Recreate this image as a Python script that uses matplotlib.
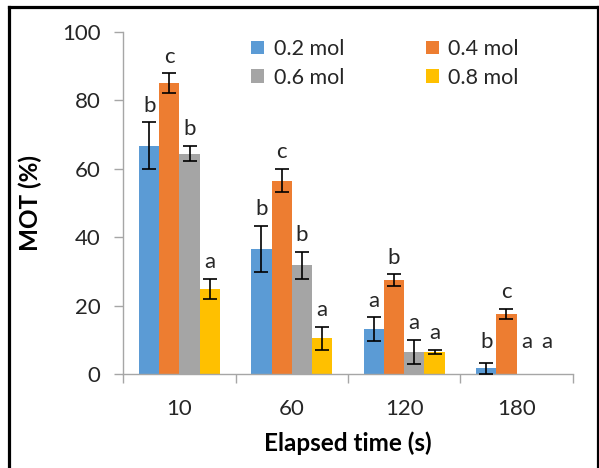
"""MOT (%) vs elapsed time, grouped bars per concentration with letter labels."""

import matplotlib
matplotlib.use("Agg")
import matplotlib.pyplot as plt
from matplotlib.lines import Line2D
from matplotlib.patches import Patch
import numpy as np

plt.rcParams["font.family"] = ["Lato", "DejaVu Sans"]

# ---------------------------------------------------------------------------
# Data
# ---------------------------------------------------------------------------
times = ["10", "60", "120", "180"]
series = ["0.2 mol", "0.4 mol", "0.6 mol", "0.8 mol"]

mot_02 = [66.8, 36.7, 13.1, 1.7]
mot_04 = [85.0, 56.6, 27.5, 17.6]
mot_06 = [64.4, 31.8, 6.5, 0.0]
mot_08 = [25.0, 10.5, 6.5, 0.0]

err_02 = [6.8, 6.7, 3.5, 1.7]
err_04 = [2.9, 3.3, 1.7, 1.4]
err_06 = [2.2, 4.0, 3.5, 0.0]
err_08 = [2.9, 3.3, 0.6, 0.0]

let_02 = ["b", "b", "a", "b"]
let_04 = ["c", "c", "b", "c"]
let_06 = ["b", "b", "a", "a"]
let_08 = ["a", "a", "a", "a"]

colors = ["#5B9BD5", "#ED7D31", "#A5A5A5", "#FFC000"]
grey = "#A6A6A6"
txt = "#262626"

values = [mot_02, mot_04, mot_06, mot_08]
errors = [err_02, err_04, err_06, err_08]
letters = [let_02, let_04, let_06, let_08]

# ---------------------------------------------------------------------------
# Figure
# ---------------------------------------------------------------------------
W, H = 599, 468
fig = plt.figure(figsize=(W / 100, H / 100), dpi=100)
ax = fig.add_axes([123.3 / W, 1 - 374.3 / H, 449.4 / W, 342.3 / H])

x = np.arange(len(times))
bw = 0.18
offsets = (np.arange(4) - 1.5) * bw

for vals, errs, labs, off, c in zip(values, errors, letters, offsets, colors):
    xs = x + off
    vals = np.asarray(vals)
    errs = np.asarray(errs)
    ax.bar(xs, vals, width=bw, color=c, zorder=2)
    has_err = errs > 0
    ax.errorbar(xs[has_err], vals[has_err], yerr=errs[has_err], fmt="none",
                ecolor="black", elinewidth=1.2, capsize=5, capthick=1.2,
                zorder=3)
    for xi, v, e, lab in zip(xs, vals, errs, labs):
        y = max(v + e + 2.0, 6.5)
        ax.text(xi, y, lab, ha="center", va="bottom", fontsize=16, color=txt)

ax.set_xlim(-0.5, len(times) - 0.5)
ax.set_ylim(0, 100)
ax.set_yticks(np.arange(0, 101, 20))
ax.set_xticks(x)
ax.set_xticklabels(times)
ax.set_xticks(np.arange(-0.5, len(times)), minor=True)

ax.tick_params(axis="y", length=6.5, width=1, color=grey, pad=10,
               labelsize=16, labelcolor=txt)
ax.tick_params(axis="x", which="major", length=0, pad=18,
               labelsize=16, labelcolor=txt)
ax.tick_params(axis="x", which="minor", length=6.5, width=1, color=grey)

for side in ["top", "right"]:
    ax.spines[side].set_visible(False)
for side in ["left", "bottom"]:
    ax.spines[side].set_color(grey)
    ax.spines[side].set_linewidth(1)

ax.set_xlabel("Elapsed time (s)", fontsize=17.5, fontweight="bold",
              labelpad=9, color="black")
ax.set_ylabel("MOT (%)", fontsize=17.5, fontweight="bold", labelpad=14,
              color="black")

# legend: 2 columns, row-major order as in the reference
handles = [Patch(facecolor=c) for c in colors]
order = [0, 2, 1, 3]
ax.legend([handles[i] for i in order], [series[i] for i in order],
          ncol=2, frameon=False, fontsize=15.5, handlelength=0.6,
          handleheight=0.6, handletextpad=0.45, columnspacing=3.8,
          labelspacing=0.4, loc="upper left", labelcolor=txt,
          bbox_to_anchor=(251 / W, 1 - 39 / H), bbox_transform=fig.transFigure,
          borderaxespad=0, borderpad=0)

# outer frame (top, left, right)
lx, rx, ty = 8.5 / W, 597.5 / W, 1 - 6.5 / H
for xs_, ys_ in [([lx, lx], [-0.1, ty]), ([lx, rx], [ty, ty]), ([rx, rx], [ty, -0.1])]:
    fig.add_artist(Line2D(xs_, ys_, transform=fig.transFigure,
                          color="black", lw=2.3))

fig.savefig("out.png", dpi=100)
